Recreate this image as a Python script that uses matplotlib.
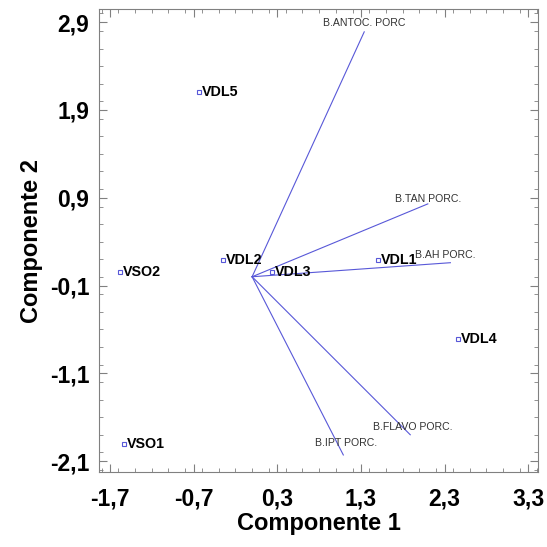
import numpy as np
import matplotlib.pyplot as plt
from matplotlib.ticker import MultipleLocator, FuncFormatter

# puntuaciones de las muestras
muestras = ['VDL5', 'VSO2', 'VDL2', 'VDL3', 'VDL1', 'VDL4', 'VSO1']
comp1 = [-0.63, -1.58, -0.35, 0.24, 1.50, 2.46, -1.53]
comp2 = [2.11, 0.05, 0.19, 0.05, 0.19, -0.71, -1.90]

# pesos de las variables (vectores)
variables = ['B.ANTOC. PORC', 'B.TAN PORC.', 'B.AH PORC.', 'B.FLAVO PORC.', 'B.IPT PORC.']
peso1 = [1.34, 2.10, 2.37, 1.89, 1.09]
peso2 = [2.79, 0.83, 0.16, -1.80, -2.03]

plt.rcParams['font.family'] = ['Liberation Sans', 'DejaVu Sans']

fig = plt.figure(figsize=(5.47, 5.47), dpi=100)
ax = fig.add_axes([0.181, 0.137, 0.803, 0.8465])

azul = '#5858d8'

# vectores desde el origen
for v, x, y in zip(variables, peso1, peso2):
    ax.plot([0, x], [0, y], color=azul, lw=0.8)

# offsets de las etiquetas de los vectores (pixeles)
off_var = [(0, 9, 'center'), (0, 5, 'center'), (25, 8, 'right'), (3, 8, 'center'), (3, 12, 'center')]
for v, x, y, (dx, dy, ha) in zip(variables, peso1, peso2, off_var):
    ax.annotate(v, (x, y), xytext=(dx, dy), textcoords='offset pixels',
                ha=ha, va='center', fontsize=7.6, color='#333333')

# muestras
ax.plot(comp1, comp2, 's', ms=3.4, mfc='white', mec=azul, mew=0.8, ls='none')
for m, x, y in zip(muestras, comp1, comp2):
    ax.annotate(m, (x, y), xytext=(3, 0), textcoords='offset pixels',
                ha='left', va='center', fontsize=10.3, fontweight='bold', color='black')

ax.set_xlim(-1.83, 3.42)
ax.set_ylim(-2.225, 3.05)
ax.set_xticks(np.arange(-1.7, 3.4, 1.0))
ax.set_yticks(np.arange(-2.1, 3.0, 1.0))
ax.xaxis.set_minor_locator(MultipleLocator(0.2))
ax.yaxis.set_minor_locator(MultipleLocator(0.2))
fmt = FuncFormatter(lambda v, p: f'{v:.1f}'.replace('.', ',').replace('-0,0', '0,0'))
ax.xaxis.set_major_formatter(fmt)
ax.yaxis.set_major_formatter(fmt)

ax.tick_params(which='both', direction='in', top=True, right=True, color='#808080')
ax.tick_params(which='major', length=6, width=0.8, labelsize=16.5)
ax.tick_params(axis='x', which='major', pad=11)
ax.tick_params(axis='y', which='major', pad=7)
ax.tick_params(which='minor', length=3, width=0.6)
for lab in ax.get_xticklabels() + ax.get_yticklabels():
    lab.set_fontweight('bold')
for s in ax.spines.values():
    s.set_color('#808080')
    s.set_linewidth(0.8)

ax.set_xlabel('Componente 1', fontsize=17, fontweight='bold', labelpad=1)
ax.set_ylabel('Componente 2', fontsize=17, fontweight='bold', labelpad=5)

fig.savefig('out.png', dpi=100)
